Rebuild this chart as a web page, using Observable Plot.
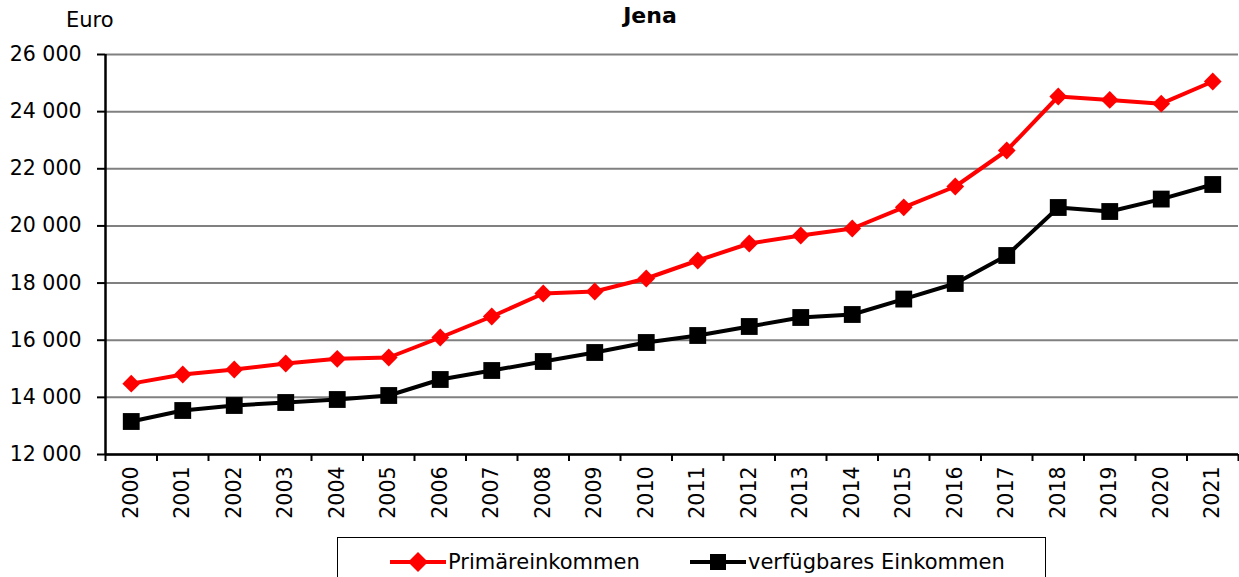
<!DOCTYPE html>
<html>
<head>
<meta charset="utf-8">
<script src="https://cdn.jsdelivr.net/npm/d3@7"></script>
<script src="https://cdn.jsdelivr.net/npm/@observablehq/plot@0.6"></script>
<style>
  html, body { margin: 0; padding: 0; background: #fff; }
  #wrap { position: relative; width: 1239px; height: 577px; overflow: hidden; font-family: "DejaVu Sans", sans-serif; }
  #title { position: absolute; left: 0; width: 1300px; top: 3px; text-align: center; font-size: 22px; font-weight: bold; color: #000; }
  #unit { position: absolute; left: 66px; top: 8px; font-size: 21px; color: #000; }
  #legend { position: absolute; left: 337px; top: 537px; width: 709px; height: 60px; border: 1.5px solid #000; box-sizing: border-box; background: #fff; }
  #chart { position: absolute; left: 0; top: 0; }
</style>
</head>
<body>
<div id="wrap">
  <div id="chart"></div>
  <div id="title">Jena</div>
  <div id="unit">Euro</div>
  <div id="legend"></div>
</div>
<script>
const years = [2000, 2001, 2002, 2003, 2004, 2005, 2006, 2007, 2008, 2009, 2010,
               2011, 2012, 2013, 2014, 2015, 2016, 2017, 2018, 2019, 2020, 2021];
const primaereinkommen = [14480, 14800, 14975, 15185, 15350, 15395, 16095, 16830, 17635, 17705, 18160,
                          18790, 19385, 19665, 19910, 20650, 21380, 22640, 24530, 24410, 24280, 25055];
const verfuegbaresEinkommen = [13155, 13540, 13715, 13820, 13925, 14065, 14625, 14940, 15255, 15570, 15920,
                               16165, 16480, 16795, 16900, 17440, 17985, 18965, 20645, 20505, 20940, 21450];
const yTicks = [12000, 14000, 16000, 18000, 20000, 22000, 24000, 26000];
const seriesNames = ["Primäreinkommen", "verfügbares Einkommen"];
const seriesColors = ["#ff0000", "#000000"];

const data = [];
years.forEach((y, i) => {
  data.push({year: y, value: primaereinkommen[i], series: seriesNames[0]});
  data.push({year: y, value: verfuegbaresEinkommen[i], series: seriesNames[1]});
});
const prim = data.filter(d => d.series === seriesNames[0]);
const verf = data.filter(d => d.series === seriesNames[1]);
const boundaries = years.map(y => y - 0.5).concat([years[years.length - 1] + 0.5]);
const fmt = d => d3.format(",")(d).replace(",", " ");

const chart = Plot.plot({
  width: 1239,
  height: 530,
  marginLeft: 105,
  marginRight: 1,
  marginTop: 54,
  marginBottom: 76,
  style: {fontFamily: "DejaVu Sans, sans-serif", fontSize: "20px", color: "#000", background: "transparent"},
  x: {domain: [years[0] - 0.5, years[years.length - 1] + 0.5]},
  y: {domain: [yTicks[0], yTicks[yTicks.length - 1]]},
  marks: [
    Plot.gridY(yTicks, {stroke: "#808080", strokeOpacity: 1, strokeWidth: 2}),
    Plot.axisY(yTicks, {tickSize: 8, tickPadding: 16, tickFormat: fmt, stroke: "#000", strokeWidth: 2, label: null, fontSize: 20.5}),
    Plot.axisX(boundaries, {tickSize: 7, tickFormat: () => "", stroke: "#000", strokeWidth: 2, label: null}),
    Plot.axisX(years, {tickSize: 0, tickPadding: 12, tickRotate: -90, tickFormat: d => String(d), label: null, fontSize: 20.5}),
    Plot.ruleX([years[0] - 0.5], {stroke: "#000", strokeWidth: 2.5}),
    Plot.ruleY([yTicks[0]], {stroke: "#000", strokeWidth: 2.5}),
    Plot.line(prim, {x: "year", y: "value", stroke: seriesColors[0], strokeWidth: 4}),
    Plot.dot(prim, {x: "year", y: "value", symbol: "diamond2", r: 8, fill: seriesColors[0], stroke: null}),
    Plot.line(verf, {x: "year", y: "value", stroke: seriesColors[1], strokeWidth: 4}),
    Plot.dot(verf, {x: "year", y: "value", symbol: "square", r: 9.5, fill: seriesColors[1], stroke: null})
  ]
});
document.getElementById("chart").appendChild(chart);

// Legend
const lg = d3.select("#legend").append("svg").attr("width", 709).attr("height", 60)
  .style("font-family", "DejaVu Sans, sans-serif").style("font-size", "21px");
const items = [
  {name: seriesNames[0], color: seriesColors[0], sym: "diamond", x0: 52, tx: 110},
  {name: seriesNames[1], color: seriesColors[1], sym: "square", x0: 352, tx: 410}
];
items.forEach(it => {
  const g = lg.append("g");
  g.append("line").attr("x1", it.x0).attr("x2", it.x0 + 56).attr("y1", 24).attr("y2", 24)
    .attr("stroke", it.color).attr("stroke-width", 4);
  const cx = it.x0 + 28;
  if (it.sym === "diamond") {
    g.append("path").attr("d", `M${cx},${24 - 10}L${cx + 10},24L${cx},${24 + 10}L${cx - 10},24Z`).attr("fill", it.color);
  } else {
    g.append("rect").attr("x", cx - 8).attr("y", 16).attr("width", 16).attr("height", 16).attr("fill", it.color);
  }
  g.append("text").attr("x", it.tx).attr("y", 31).attr("fill", "#000").text(it.name);
});
</script>
</body>
</html>
